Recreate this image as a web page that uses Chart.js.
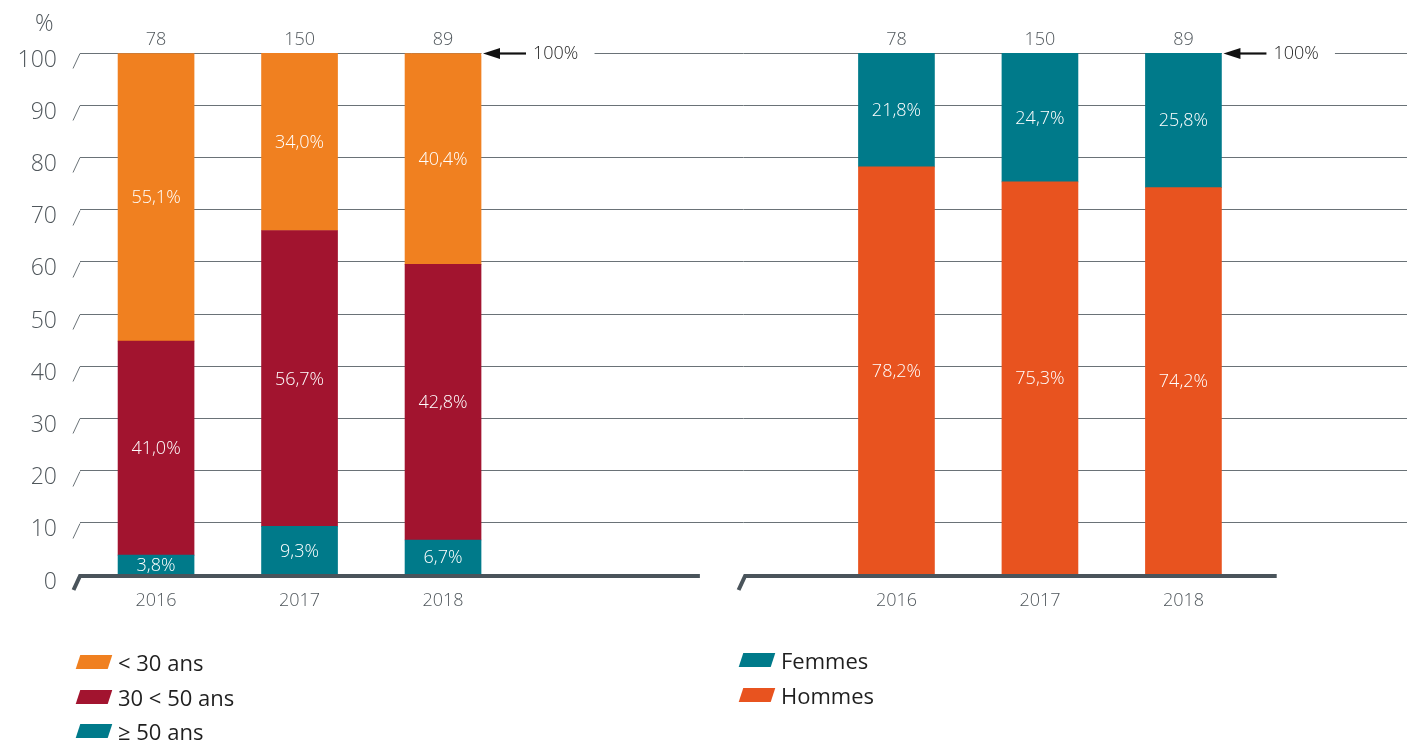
<!DOCTYPE html>
<html lang="fr">
<head>
<meta charset="utf-8">
<title>Répartition par âge et par sexe</title>
<script src="https://cdn.jsdelivr.net/npm/chart.js@4.4.1/dist/chart.umd.min.js"></script>
<style>
  html, body { margin: 0; padding: 0; background: #fff; }
  #wrap { position: relative; width: 1407px; height: 743px; overflow: hidden; font-family: 'Open Sans', sans-serif; }
  #chart { position: absolute; left: 0; top: 0; }
  .unit { position: absolute; left: 35px; top: 10px; line-height: 24px; font-size: 23px; font-weight: 300; color: #50575c; }
  .legend { position: absolute; }
  .legend-item { display: flex; align-items: center; height: 34.5px; font-size: 22px; color: #1f1f1f; }
  .swatch { width: 32px; height: 14px; margin-right: 8px; transform: skewX(-18deg); }
</style>
</head>
<body>
<div id="wrap">
  <canvas id="chart" width="1407" height="743"></canvas>
  <div class="unit">%</div>
  <div class="legend" id="legend-age" style="left:78px; top:645px;"></div>
  <div class="legend" id="legend-sex" style="left:741px; top:643px;"></div>
</div>
<script>
// Data
const years = ['2016', '2017', '2018'];
const totals = [78, 150, 89];
const yTicks = [0, 10, 20, 30, 40, 50, 60, 70, 80, 90, 100];

const ageLabels = ['< 30 ans', '30 < 50 ans', '≥ 50 ans'];
const under30 = [55.1, 34.0, 40.4];
// the 2018 segment is drawn up to ~59 in the source, but printed as 42,8%
const from30to50 = [41.0, 56.7, 52.8];
const from30to50Printed = [41.0, 56.7, 42.8];
const over50 = [3.8, 9.3, 6.7];

const sexLabels = ['Femmes', 'Hommes'];
const femmes = [21.8, 24.7, 25.8];
const hommes = [78.2, 75.3, 74.2];

// Colours
const ORANGE = '#f08020';
const RED = '#a2142f';
const TEAL = '#007a8a';
const RED_ORANGE = '#e8531f';
const GRID = '#6a7277';
const AXIS = '#4a545b';
const TEXT = '#50575c';
const FONT = "'Open Sans', sans-serif";

// Layout (x in category units: left panel at 0..2, right panel shifted)
const RIGHT_SHIFT = 5.16;
const panelSpans = [[-0.53, 3.79], [4.105, 7.81]];

function points(values, shift) {
    return values.map((v, i) => ({ x: i + shift, y: v }));
}

const datasets = [
    { label: ageLabels[2], data: points(over50, 0), backgroundColor: TEAL },
    { label: ageLabels[1], data: points(from30to50, 0), backgroundColor: RED, printed: from30to50Printed },
    { label: ageLabels[0], data: points(under30, 0), backgroundColor: ORANGE },
    { label: sexLabels[1], data: points(hommes, RIGHT_SHIFT), backgroundColor: RED_ORANGE },
    { label: sexLabels[0], data: points(femmes, RIGHT_SHIFT), backgroundColor: TEAL }
];

const xTickValues = years.map((_, i) => i).concat(years.map((_, i) => i + RIGHT_SHIFT));
const xTickLabels = years.concat(years);

function fmt(v) {
    return v.toFixed(1).replace('.', ',') + '%';
}

const decorPlugin = {
    id: 'decor',
    afterDatasetsDraw(chart) {
        const ctx = chart.ctx;
        const xs = chart.scales.x;
        const ys = chart.scales.y;
        const area = chart.chartArea;
        const y0 = ys.getPixelForValue(0);
        const y100 = ys.getPixelForValue(100);
        ctx.save();

        // little slashes in front of each grid line
        ctx.strokeStyle = GRID;
        ctx.lineWidth = 1;
        yTicks.forEach(v => {
            if (v === 0) return;
            const py = Math.round(ys.getPixelForValue(v)) + 0.5;
            ctx.beginPath();
            ctx.moveTo(area.left - 7, py + 15);
            ctx.lineTo(area.left, py);
            ctx.stroke();
        });

        // thick base lines of both panels
        ctx.strokeStyle = AXIS;
        ctx.lineWidth = 4;
        ctx.lineJoin = 'miter';
        panelSpans.forEach(span => {
            const a = Math.max(xs.getPixelForValue(span[0]), area.left);
            const b = xs.getPixelForValue(span[1]);
            ctx.beginPath();
            ctx.moveTo(a - 6.5, y0 + 15);
            ctx.lineTo(a, y0 + 1);
            ctx.lineTo(b, y0 + 1);
            ctx.stroke();
        });

        // values inside the segments
        ctx.fillStyle = '#ffffff';
        ctx.font = '300 18px ' + FONT;
        ctx.textAlign = 'center';
        ctx.textBaseline = 'middle';
        chart.data.datasets.forEach((ds, di) => {
            chart.getDatasetMeta(di).data.forEach((bar, i) => {
                const v = ds.printed ? ds.printed[i] : ds.data[i].y;
                ctx.fillText(fmt(v), bar.x, (bar.y + bar.base) / 2 + 1);
            });
        });

        // totals above bars
        ctx.fillStyle = TEXT;
        ctx.font = '300 18px ' + FONT;
        [0, 3].forEach(di => {
            chart.getDatasetMeta(di).data.forEach((bar, i) => {
                ctx.fillText(String(totals[i]), bar.x, y100 - 13);
            });
        });

        // "100%" arrows next to the last bar of each panel
        [0, 3].forEach(di => {
            const meta = chart.getDatasetMeta(di);
            const bar = meta.data[meta.data.length - 1];
            const right = bar.x + bar.width / 2;
            const py = Math.round(y100) + 0.5;
            ctx.fillStyle = '#ffffff';
            ctx.fillRect(right + 0.5, py - 2, 113, 4);
            ctx.strokeStyle = '#111111';
            ctx.fillStyle = '#111111';
            ctx.lineWidth = 2.2;
            ctx.beginPath();
            ctx.moveTo(right + 14, py);
            ctx.lineTo(right + 45, py);
            ctx.stroke();
            ctx.beginPath();
            ctx.moveTo(right + 2, py);
            ctx.lineTo(right + 19, py - 5.5);
            ctx.lineTo(right + 19, py + 5.5);
            ctx.closePath();
            ctx.fill();
            ctx.fillStyle = '#1f1f1f';
            ctx.font = '300 18px ' + FONT;
            ctx.textAlign = 'left';
            ctx.fillText('100%', right + 52, py);
            ctx.textAlign = 'center';
        });

        ctx.restore();
    }
};

new Chart(document.getElementById('chart'), {
    type: 'bar',
    data: { datasets: datasets },
    options: {
        responsive: false,
        animation: false,
        events: [],
        layout: { padding: { top: 53, left: 0, right: 0, bottom: 0 } },
        datasets: { bar: { barThickness: 76, borderWidth: 0 } },
        plugins: { legend: { display: false }, tooltip: { enabled: false } },
        scales: {
            x: {
                type: 'linear',
                stacked: true,
                offset: false,
                min: -0.53,
                max: 8.718,
                afterBuildTicks: s => { s.ticks = xTickValues.map(v => ({ value: v })); },
                afterFit: s => { s.height = 168; },
                grid: { display: false, drawTicks: false, offset: false },
                border: { display: false },
                ticks: {
                    autoSkip: false,
                    maxRotation: 0,
                    padding: 15,
                    color: TEXT,
                    font: { family: FONT, size: 18, weight: '300' },
                    callback: (value, index) => xTickLabels[index]
                }
            },
            y: {
                stacked: true,
                min: 0,
                max: 100,
                afterBuildTicks: s => { s.ticks = yTicks.map(v => ({ value: v })); },
                afterFit: s => { s.width = 80; },
                grid: {
                    drawTicks: false,
                    color: ctx => (ctx.tick && ctx.tick.value === 0) ? 'rgba(0,0,0,0)' : GRID,
                    lineWidth: 1
                },
                border: { display: false },
                ticks: {
                    padding: 23,
                    labelOffset: 7,
                    color: TEXT,
                    font: { family: FONT, size: 23, weight: '300' }
                }
            }
        }
    },
    plugins: [decorPlugin]
});

// HTML legends with slanted swatches
function buildLegend(el, labels, colors) {
    labels.forEach((label, i) => {
        const item = document.createElement('div');
        item.className = 'legend-item';
        const sw = document.createElement('span');
        sw.className = 'swatch';
        sw.style.background = colors[i];
        const txt = document.createElement('span');
        txt.textContent = label;
        item.appendChild(sw);
        item.appendChild(txt);
        el.appendChild(item);
    });
}
buildLegend(document.getElementById('legend-age'), ageLabels, [ORANGE, RED, TEAL]);
buildLegend(document.getElementById('legend-sex'), sexLabels, [TEAL, RED_ORANGE]);
</script>
</body>
</html>
